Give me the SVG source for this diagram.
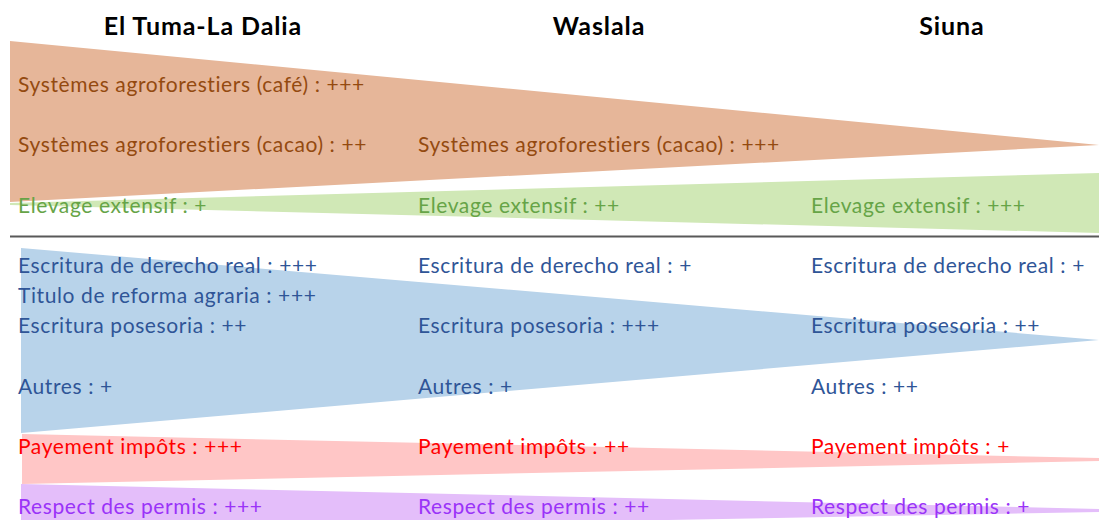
<svg xmlns="http://www.w3.org/2000/svg" width="1099" height="520" viewBox="0 0 1099 520">
<style>
text{font-family:Lato,"Liberation Sans",sans-serif;font-size:21px;letter-spacing:0.6px}
.h{font-weight:bold;font-size:25px;letter-spacing:0.9px;fill:#000;text-anchor:middle}
.o{fill:#944A10}.g{fill:#66A447}.b{fill:#2F5597}.r{fill:#FF0000}.p{fill:#9A33F8}
</style>
<rect width="1099" height="520" fill="#fff"/>
<g id="headers">
<text class="h" x="203" y="35">El Tuma-La Dalia</text>
<text class="h" x="599" y="35">Waslala</text>
<text class="h" x="952" y="35">Siuna</text>
</g>
<g id="shapes">
<polygon id="orange" points="10,41 1099,145 10,202" fill="#E6B699"/>
<polygon id="green" points="10,203 1099,173 1099,233 10,205" fill="#D0E8B6"/>
<polygon id="blue" points="21,248 1099,340 21,433" fill="#B8D3EA"/>
<polygon id="red" points="22,434 1099,458 1099,461 22,484" fill="#FFC6C6"/>
<polygon id="purple" points="21,484 1099,509 1099,512 21,532" fill="#E4BEFA"/>
</g>
<g id="connectors">
<line x1="10" y1="236.5" x2="1099" y2="236.5" stroke="#595959" stroke-width="2"/>
</g>
<g id="labels">
<text class="o" x="18" y="92">Systèmes agroforestiers (café) : +++</text>
<text class="o" x="18" y="152">Systèmes agroforestiers (cacao) : ++</text>
<text class="o" x="418" y="152">Systèmes agroforestiers (cacao) : +++</text>
<text class="g" x="18" y="213">Elevage extensif : +</text>
<text class="g" x="418" y="213">Elevage extensif : ++</text>
<text class="g" x="811" y="213">Elevage extensif : +++</text>
<text class="b" x="18" y="273">Escritura de derecho real : +++</text>
<text class="b" x="418" y="273">Escritura de derecho real : +</text>
<text class="b" x="811" y="273">Escritura de derecho real : +</text>
<text class="b" x="18" y="303">Titulo de reforma agraria : +++</text>
<text class="b" x="18" y="333">Escritura posesoria : ++</text>
<text class="b" x="418" y="333">Escritura posesoria : +++</text>
<text class="b" x="811" y="333">Escritura posesoria : ++</text>
<text class="b" x="18" y="394">Autres : +</text>
<text class="b" x="418" y="394">Autres : +</text>
<text class="b" x="811" y="394">Autres : ++</text>
<text class="r" x="18" y="454">Payement impôts : +++</text>
<text class="r" x="418" y="454">Payement impôts : ++</text>
<text class="r" x="811" y="454">Payement impôts : +</text>
<text class="p" x="18" y="514">Respect des permis : +++</text>
<text class="p" x="418" y="514">Respect des permis : ++</text>
<text class="p" x="811" y="514">Respect des permis : +</text>
</g>
</svg>
